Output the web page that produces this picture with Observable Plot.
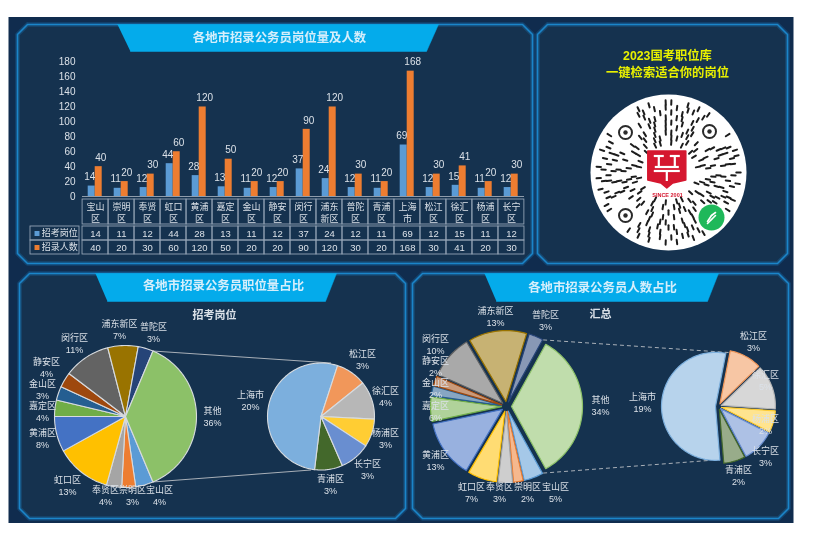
<!DOCTYPE html>
<html><head><meta charset="utf-8">
<script src="https://cdn.jsdelivr.net/npm/d3@7"></script>
<script src="https://cdn.jsdelivr.net/npm/@observablehq/plot@0.6"></script>
<style>
html,body{margin:0;padding:0;background:#fff}
#stage{position:relative;width:817px;height:533px;overflow:hidden;filter:blur(0.55px)}
#stage>svg{position:absolute;background:transparent;overflow:visible}
</style></head><body><div id="stage"></div>
<script>
const districts=["宝山区","崇明区","奉贤区","虹口区","黄浦区","嘉定区","金山区","静安区","闵行区","浦东新区","普陀区","青浦区","上海市","松江区","徐汇区","杨浦区","长宁区"];
const posts=[14,11,12,44,28,13,11,12,37,24,12,11,69,12,15,11,12];
const hires=[40,20,30,60,120,50,20,20,90,120,30,20,168,30,41,20,30];
const postPct=[4,3,4,13,8,4,3,4,11,7,3,3,20,3,4,3,3];
const hirePct=[5,2,3,7,13,6,2,2,10,13,3,2,19,3,5,2,3];
const otherPostPct=36, otherHirePct=34;
const seriesNames=["招考岗位","招录人数"];
const titles=["各地市招录公务员岗位量及人数","各地市招录公务员职位量占比","各地市招录公务员人数占比"];
const promo=["2023国考职位库","一键检索适合你的岗位"];
const sliceColors=["#5B9BD5","#ED7D31","#A5A5A5","#FFC000","#4472C4","#70AD47","#255E91","#9E480E","#636363","#997300","#264478","#43682B","#7CAFDD","#F1975A","#B7B7B7","#FFCD33","#698ED0"];
const otherColor="#8CC168";
const INK="#dbe1e8", BLUE="#5B9BD5", ORANGE="#ED7D31";
const FONT='"Liberation Sans","Noto Sans CJK SC",sans-serif';
const stage=document.getElementById("stage");
function place(svg,left,top){svg.style.left=left+"px";svg.style.top=top+"px";stage.appendChild(svg);}

// ---- frame layout -----
const panels=[[17,24,532,263],[537,24,787,263],[19,273,405,518],[412,273,788,518]];
const heads=[[117,438,130,426,24,51,279,37.5],[95,336,107,325,273,301,223,286],[484,718,496,707,273,301,602,287.5]];
function chamfer(p,i,c=10){const [a,b,d,e]=p;return [[a+c,b],[d-c,b],[d,b+c],[d,e-c],[d-c,e],[a+c,e],[a,e-c],[a,b+c],[a+c,b]].map(q=>({id:i,x:q[0],y:q[1]}));}
const panelPts=panels.flatMap((p,i)=>chamfer(p,i));
const headPts=heads.flatMap((h,i)=>[[h[0],h[4]],[h[1],h[4]],[h[3],h[5]],[h[2],h[5]]].map(q=>({id:i,x:q[0],y:q[1]})));
const headText=heads.map((h,i)=>({x:h[6],y:h[7],t:titles[i]}));
const subText=[{x:214,y:315,t:"招考岗位"},{x:600,y:314,t:"汇总"}];

// ---- label layout -----
const spotsL={"浦东新区":[119,329],"普陀区":[153,332],"闵行区":[74,343],"静安区":[46,367],"金山区":[42,389],"嘉定区":[42,411],"黄浦区":[42,438],"虹口区":[67,485],
  "奉贤区":[105,495],"崇明区":[132,495],"宝山区":[159,495],"其他":[212,416],"上海市":[250,400],"松江区":[362,359],"徐汇区":[385,396],"杨浦区":[385,438],"长宁区":[367,469],"青浦区":[330,484]};
const spotsR={"浦东新区":[495,316],"普陀区":[545,320],"闵行区":[435,344],"静安区":[435,366],"金山区":[435,388],"嘉定区":[435,411],"黄浦区":[435,460],"虹口区":[471,492],
  "奉贤区":[499,492],"崇明区":[527,492],"宝山区":[555,492],"其他":[600,405],"上海市":[642,402],"松江区":[753,341],"徐汇区":[765,380],"杨浦区":[765,424],"长宁区":[765,456],"青浦区":[738,475]};

// ---- pies ----
function ptsOnArc(c,r,a){const t=a*Math.PI/180;return {x:c[0]+r*Math.sin(t),y:c[1]-r*Math.cos(t)};}
function pie(cfg){
  const total=d3.sum(cfg.values);let a=cfg.start;const polys=[],labels=[];
  cfg.values.forEach((v,i)=>{
    const sweep=v/total*360,mid=a+sweep/2,t=mid*Math.PI/180,ux=Math.sin(t),uy=-Math.cos(t);
    const c=[cfg.c[0]+cfg.explode*ux,cfg.c[1]+cfg.explode*uy];
    const arc=[{x:c[0],y:c[1]}];
    const n=Math.ceil(sweep/2);
    for(let k=0;k<=n;k++)arc.push(ptsOnArc(c,cfg.r,a+sweep*k/n));
    arc.push({x:c[0],y:c[1]});
    const fillC=cfg.light?d3.interpolateRgb(cfg.colors[i],"#ffffff")(0.45):cfg.colors[i];
    const strokeC=cfg.light?cfg.colors[i]:"#d7dbdf";
    arc.forEach(q=>polys.push({id:cfg.key+i,x:q.x,y:q.y,fill:fillC,stroke:strokeC}));
    const name=cfg.names[i],s=cfg.spots[name];
    labels.push({x:s[0],y:s[1],t:name+"\n"+cfg.pct[i]+"%"});
    a+=sweep;
  });
  return {polys,labels};
}
function pair(vals,pct,otherPct,cfg,key){
  const idxA=d3.range(0,11),idxB=[11,12,13,14,15,16];
  const otherVal=d3.sum(idxB,i=>vals[i]);
  const sweepOther=otherVal/d3.sum(vals)*360;
  const a=pie({key:key+"a",values:[...idxA.map(i=>vals[i]),otherVal],names:[...idxA.map(i=>districts[i]),"其他"],pct:[...idxA.map(i=>pct[i]),otherPct],
    colors:[...idxA.map(i=>sliceColors[i]),otherColor],start:90+sweepOther/2,c:cfg.c1,r:cfg.r1,explode:cfg.e1,light:cfg.light,spots:cfg.spots});
  const b=pie({key:key+"b",values:idxB.map(i=>vals[i]),names:idxB.map(i=>districts[i]),pct:idxB.map(i=>pct[i]),colors:idxB.map(i=>sliceColors[i]),
    start:cfg.start2,c:cfg.c2,r:cfg.r2,explode:cfg.e2,light:cfg.light,spots:cfg.spots});
  const top=ptsOnArc(cfg.c1,cfg.r1+cfg.e1,90-sweepOther/2), bot=ptsOnArc(cfg.c1,cfg.r1+cfg.e1,90+sweepOther/2);
  const links=[{x1:top.x,y1:top.y,x2:cfg.c2[0]+cfg.l2,y2:cfg.c2[1]-cfg.r2},{x1:bot.x,y1:bot.y,x2:cfg.c2[0]-cfg.l2,y2:cfg.c2[1]+cfg.r2}];
  return {polys:[...a.polys,...b.polys],labels:[...a.labels,...b.labels],links};
}
const pieL=pair(posts,postPct,otherPostPct,{c1:[125,416],r1:71,e1:0,c2:[320.5,416],r2:53.5,e2:0,l2:10,start2:156.5,light:false,spots:spotsL},"L");
const pieR=pair(hires,hirePct,otherHirePct,{c1:[506,406],r1:71,e1:5,c2:[718,406],r2:54,e2:3,l2:10,start2:152,light:true,spots:spotsR},"R");

// ---- QR decoration -----
const qrC=[668,172];
const qrRings=[
 [30,"1-1-11-1--1-1-11-1-1--1-1-11-1-11-"],
 [35,"11-1-1-11--1-1-1-11-1-1--1-11-1-1-1-11-"],
 [40,"1-11-1--1-1-11-1-1-11-1--1-11-1-1-1--11-1-1-1"],
 [45,"-1-11-1-1--1-11-1-1-11--1-1-11-1-1-11-1-1--1-11-1-1"],
 [50,"1-1-1-11-1-1--1-1-11-1-1-1--11-1-1-11-1-1-1--1-11-1-11-1"],
 [55,"-11-1-1-1--11-1-1-1-11-1--1-1-11-1-1--1-11-1-1-1-11--1-1-1-11-1"],
 [60,"1-1--11-1-1-11-1--1-11-1-1-1-11-1--1-1-11-1-1-1--11-1-1-11-1-1-1--1-"],
 [65,"-1-11-1-1-1--1-11-1-1-11-1-1--1-11-1-1-1-11--1-1-11-1-1-1-11--1-1-11-1-1"],
 [70,"1--1-1-1--1-1--11--1-1--1-1-1--11-1--1-1--1-1-1--1-11--1-1-1--1--1-1-1--1-1--1"]
];
const finders=[[-43,-40],[41,-41],[-43,43]];
const greenDot=[43,45];
const qrDashes=qrRings.flatMap(([r,p])=>Array.from(p).flatMap((ch,i)=>{
  if(ch!=="1")return [];
  const a=(i+.5)/p.length*360;
  const m=ptsOnArc([0,0],r,a);
  if([...finders,greenDot].some(f=>Math.hypot(m.x-f[0],m.y-f[1])<14.5))return [];
  const p1=ptsOnArc(qrC,r-2.2,a),p2=ptsOnArc(qrC,r+2.2,a);
  return [{x1:p1.x,y1:p1.y,x2:p2.x,y2:p2.y}];
}));
const shield=[[-19,-18],[19,-18],[19,11],[6,14],[0,19],[-6,14],[-19,11],[-19,-18]].map(q=>({x:666.3+q[0],y:168.5+q[1]}));
const logoBars=[[-13,-13,-3,-13],[3,-13,13,-13],[-8,-13,-8,-2],[8,-13,8,-2],[-12,-2,12,-2],[-13,2,13,2],[0,2,0,12]].map(q=>({x1:666.3+q[0],y1:168.5+q[1],x2:666.3+q[2],y2:168.5+q[3]}));

const stagePlot=Plot.plot({width:817,height:533,margin:0,style:{background:"transparent",fontFamily:FONT},
  x:{domain:[0,817],range:[0,817],axis:null},y:{domain:[0,533],range:[0,533],axis:null},color:{type:"identity"},
  marks:[
    Plot.rect([{a:8.5,b:793.5,c:17,d:523}],{x1:"a",x2:"b",y1:"c",y2:"d",fill:"#102c4e"}),
    Plot.line(panelPts,{x:"x",y:"y",z:"id",stroke:"#1b8ad0",strokeWidth:4.5,strokeOpacity:.28,fill:"#15324f"}),
    Plot.line(panelPts,{x:"x",y:"y",z:"id",stroke:"#1b85c9",strokeWidth:1.6}),
    Plot.line(headPts,{x:"x",y:"y",z:"id",fill:"#04abeb",stroke:"#04abeb",strokeWidth:.5}),
    Plot.text(headText,{x:"x",y:"y",text:"t",fill:"#d5eefb",fontSize:12.4,fontWeight:"bold"}),
    Plot.text(subText,{x:"x",y:"y",text:"t",fill:INK,fontSize:11,fontWeight:"bold"}),
    Plot.text(promo.map((t,i)=>({t,i})),{x:()=>667,y:d=>56+d.i*17,text:"t",fill:"#e8f000",fontSize:12.3,fontWeight:"bold"}),
    Plot.dot([{x:qrC[0],y:qrC[1]}],{x:"x",y:"y",r:78,fill:"#ffffff"}),
    Plot.link(qrDashes,{x1:"x1",y1:"y1",x2:"x2",y2:"y2",stroke:"#1c1c1c",strokeWidth:2,strokeLinecap:"round"}),
    Plot.dot(finders,{x:d=>qrC[0]+d[0],y:d=>qrC[1]+d[1],r:6.5,fill:"none",stroke:"#2a2a2a",strokeWidth:2}),
    Plot.dot(finders,{x:d=>qrC[0]+d[0],y:d=>qrC[1]+d[1],r:2.2,fill:"#2a2a2a"}),
    Plot.dot([greenDot],{x:d=>qrC[0]+d[0],y:d=>qrC[1]+d[1],r:13,fill:"#1fb85a"}),
    Plot.link([[-4,4,0,-2],[0,-2,4,-5],[0,2,4,-2],[-4,6,0,2]],{x1:d=>qrC[0]+greenDot[0]+d[0],y1:d=>qrC[1]+greenDot[1]+d[1],x2:d=>qrC[0]+greenDot[0]+d[2],y2:d=>qrC[1]+greenDot[1]+d[3],stroke:"#fff",strokeWidth:1.6,strokeLinecap:"round"}),
    Plot.line(shield,{x:"x",y:"y",fill:"#d5172f",stroke:"#d5172f"}),
    Plot.link(logoBars,{x1:"x1",y1:"y1",x2:"x2",y2:"y2",stroke:"#fff",strokeWidth:2.2}),
    Plot.text(["SINCE 2001"],{x:()=>667,y:()=>194.5,text:d=>d,fill:"#d5172f",fontSize:5.5,fontWeight:"bold"}),
    Plot.link(pieL.links,{x1:"x1",y1:"y1",x2:"x2",y2:"y2",stroke:"#a9b0b8",strokeWidth:1}),
    Plot.link(pieR.links,{x1:"x1",y1:"y1",x2:"x2",y2:"y2",stroke:"#a9b0b8",strokeWidth:1,strokeDasharray:"4 3"}),
    Plot.line(pieL.polys,{x:"x",y:"y",z:"id",fill:"fill",stroke:"stroke",strokeWidth:1.1}),
    Plot.line(pieR.polys,{x:"x",y:"y",z:"id",fill:"fill",stroke:"stroke",strokeWidth:1.2}),
    Plot.text([...pieL.labels,...pieR.labels],{x:"x",y:"y",text:"t",fill:INK,fontSize:9,lineHeight:1.25})
  ]});
place(stagePlot,0,0);

// ---- bars + table -----
const long=districts.flatMap((d,i)=>[{d,s:seriesNames[0],v:posts[i]},{d,s:seriesNames[1],v:hires[i]}]);
const splitName=n=>n.slice(0,2)+"\n"+n.slice(2);
const barPlot=Plot.plot({width:532,height:148,marginLeft:79.3,marginRight:5.7,marginTop:11.7,marginBottom:2,
  style:{background:"transparent",fontFamily:FONT,color:INK},
  fx:{domain:districts,padding:0,axis:null,label:null},
  x:{domain:seriesNames,paddingInner:0,paddingOuter:.665,axis:null},
  y:{domain:[0,180],label:null},
  color:{domain:seriesNames,range:[BLUE,ORANGE]},
  marks:[
    Plot.axisY({ticks:d3.range(0,181,20),tickSize:0,tickPadding:7,label:null,fontSize:10,fill:INK}),
    Plot.barY(long,{fx:"d",x:"s",y:"v",fill:"s"}),
    Plot.ruleY([0],{stroke:"#8f9cab",strokeWidth:1}),
    Plot.text(long,{fx:"d",x:"s",y:"v",text:"v",dy:-9,dx:-2,fill:INK,fontSize:10,filter:d=>d.s===seriesNames[0]}),
    Plot.text(long,{fx:"d",x:"s",y:"v",text:"v",dy:-9,dx:2,fill:INK,fontSize:10,filter:d=>d.s===seriesNames[1]})
  ]});
place(barPlot,0,50);

const GRID="#93a3b5";
const catPlot=Plot.plot({width:532,height:25.7,marginLeft:79.3,marginRight:5.7,marginTop:0,marginBottom:0,
  style:{background:"transparent",fontFamily:FONT},
  x:{domain:districts,padding:0,axis:null},y:{domain:["c"],padding:0,axis:null},
  marks:[
    Plot.cell(districts,{x:d=>d,y:()=>"c",fill:"none",stroke:GRID,strokeWidth:.9}),
    Plot.text(districts,{x:d=>d,y:()=>"c",text:splitName,fill:INK,fontSize:9,lineHeight:1.3})
  ]});
place(catPlot,0,199.3);

const valPlot=Plot.plot({width:532,height:29.3,marginLeft:79.3,marginRight:5.7,marginTop:0,marginBottom:0,
  style:{background:"transparent",fontFamily:FONT},
  x:{domain:districts,padding:0,axis:null},y:{domain:seriesNames,padding:0,axis:null},
  marks:[
    Plot.cell(long,{x:"d",y:"s",fill:"none",stroke:GRID,strokeWidth:.9}),
    Plot.text(long,{x:"d",y:"s",text:"v",fill:INK,fontSize:9.5})
  ]});
place(valPlot,0,225);

const headPlot=Plot.plot({width:79.3,height:29.3,marginLeft:30,marginRight:0,marginTop:0,marginBottom:0,
  style:{background:"transparent",fontFamily:FONT},
  x:{domain:["h"],padding:0,axis:null},y:{domain:seriesNames,padding:0,axis:null},
  color:{domain:seriesNames,range:[BLUE,ORANGE]},
  marks:[
    Plot.cell(seriesNames,{x:()=>"h",y:d=>d,fill:"none",stroke:GRID,strokeWidth:.9}),
    Plot.dot(seriesNames,{x:()=>"h",y:d=>d,symbol:"square",r:2.8,fill:d=>d,dx:-18}),
    Plot.text(seriesNames,{x:()=>"h",y:d=>d,text:d=>d,dx:4.7,fill:INK,fontSize:9})
  ]});
place(headPlot,0,225);
</script></body></html>
